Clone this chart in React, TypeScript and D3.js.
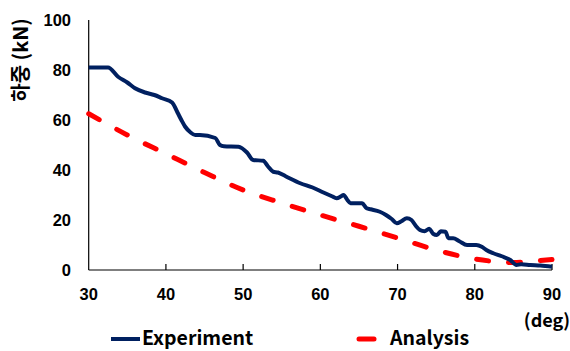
import React, { useEffect, useRef } from "react";
import * as d3 from "d3";

const experimentDeg = [30, 31, 32.5, 33.8, 35, 36, 37.3, 38.5, 39.5, 40.8, 41.5, 42, 42.5, 43.2, 43.8, 44.4, 46.4, 47, 47.5, 49.4, 50.5, 51.3, 52.6, 53.2, 53.9, 54.5, 55.5, 57.4, 59, 60.4, 61.5, 62.1, 62.7, 63, 63.5, 63.9, 65.4, 66, 66.5, 67.7, 68.5, 69.2, 69.9, 70.5, 71.2, 71.8, 72.4, 72.9, 73.5, 74.1, 74.6, 75.1, 75.6, 76.2, 76.6, 77.2, 78, 79, 80.2, 80.9, 81.5, 82.4, 83.5, 84.6, 85.4, 86, 87.2, 88.5, 90];
const experimentLoad = [81, 81, 81, 77.3, 75, 72.7, 71, 70, 68.7, 67, 63, 60, 57.3, 55, 54, 54, 52.8, 50, 49.5, 49.3, 47, 44, 43.7, 41.5, 39.3, 39, 37.5, 34.7, 33, 31, 29.5, 28.7, 29.5, 30, 28, 26.7, 26.7, 24.7, 24.3, 23.3, 22, 20.5, 18.7, 19.5, 20.7, 20, 17.5, 16, 15.5, 16.5, 14.5, 14, 15.5, 15.3, 12.7, 12.7, 11.5, 10, 10, 9.3, 8, 6.7, 5.5, 4, 2, 2.3, 2, 1.8, 1.3];

const analysisDeg = [30, 35, 40, 45, 50, 55, 60, 65, 70, 75, 80, 83, 85, 87.5, 90];
const analysisLoad = [62.5, 54, 46.5, 39, 32, 26.8, 22, 17.5, 12.8, 8, 4.4, 3.3, 3, 3.5, 4.2];

const xTicks = [30, 40, 50, 60, 70, 80, 90];
const yTicks = [0, 20, 40, 60, 80, 100];
const yLabel = "하중 (kN)";
const xUnit = "(deg)";
const seriesNames = ["Experiment", "Analysis"];

export default function App() {
  const ref = useRef<SVGSVGElement>(null);
  useEffect(() => {
    const svg = d3.select(ref.current);
    svg.selectAll("*").remove();
    const x = d3.scaleLinear().domain([30, 90]).range([88.7, 552]);
    const y = d3.scaleLinear().domain([0, 100]).range([270, 20]);
    const numFont = "'Liberation Sans', Arial, sans-serif";
    const krFont = "'Noto Sans CJK KR', sans-serif";

    // axes
    svg.append("line").attr("x1", x(30)).attr("x2", x(30)).attr("y1", y(100)).attr("y2", y(0))
      .attr("stroke", "#000").attr("stroke-width", 1.2);
    svg.append("line").attr("x1", x(30)).attr("x2", x(90)).attr("y1", y(0)).attr("y2", y(0))
      .attr("stroke", "#000").attr("stroke-width", 1.2);
    xTicks.slice(1).forEach((t) => {
      svg.append("line").attr("x1", x(t)).attr("x2", x(t)).attr("y1", y(0)).attr("y2", y(0) - 6)
        .attr("stroke", "#000").attr("stroke-width", 1.2);
    });
    xTicks.forEach((t) => {
      svg.append("text").attr("x", x(t)).attr("y", 300).attr("text-anchor", "middle")
        .attr("font-family", numFont).attr("font-weight", "bold").attr("font-size", 16.5).text(String(t));
    });
    yTicks.forEach((t) => {
      svg.append("text").attr("x", 71).attr("y", y(t) + 6).attr("text-anchor", "end")
        .attr("font-family", numFont).attr("font-weight", "bold").attr("font-size", 16.5).text(String(t));
    });
    svg.append("text").attr("transform", "translate(28,60) rotate(-90)").attr("text-anchor", "middle")
      .attr("font-family", krFont).attr("font-weight", "bold").attr("font-size", 20).text(yLabel);
    svg.append("text").attr("x", 547).attr("y", 327).attr("text-anchor", "middle")
      .attr("font-family", krFont).attr("font-weight", "bold").attr("font-size", 18).text(xUnit);

    const expLine = d3.line<[number, number]>().x((d) => x(d[0])).y((d) => y(d[1])).curve(d3.curveMonotoneX);
    const anaLine = d3.line<[number, number]>().x((d) => x(d[0])).y((d) => y(d[1])).curve(d3.curveMonotoneX);

    svg.append("path").datum(analysisDeg.map((d, i) => [d, analysisLoad[i]] as [number, number]))
      .attr("d", anaLine).attr("fill", "none").attr("stroke", "#FF0000").attr("stroke-width", 5)
      .attr("stroke-dasharray", "12 20").attr("stroke-linecap", "round");
    svg.append("path").datum(experimentDeg.map((d, i) => [d, experimentLoad[i]] as [number, number]))
      .attr("d", expLine).attr("fill", "none").attr("stroke", "#002060").attr("stroke-width", 4)
      .attr("stroke-linejoin", "round");

    // legend
    svg.append("line").attr("x1", 111).attr("x2", 140).attr("y1", 339).attr("y2", 339)
      .attr("stroke", "#002060").attr("stroke-width", 4);
    svg.append("text").attr("x", 142).attr("y", 345).attr("font-family", krFont).attr("font-weight", "bold")
      .attr("font-size", 19.5).text(seriesNames[0]);
    svg.append("line").attr("x1", 359).attr("x2", 374).attr("y1", 339).attr("y2", 339)
      .attr("stroke", "#FF0000").attr("stroke-width", 5).attr("stroke-linecap", "round");
    svg.append("text").attr("x", 390).attr("y", 345).attr("font-family", krFont).attr("font-weight", "bold")
      .attr("font-size", 19.5).text(seriesNames[1]);
  }, []);
  return (
    <svg ref={ref} width={570} height={351}
      style={{ position: "absolute", left: 0, top: 0, background: "#fff", display: "block" }} />
  );
}
